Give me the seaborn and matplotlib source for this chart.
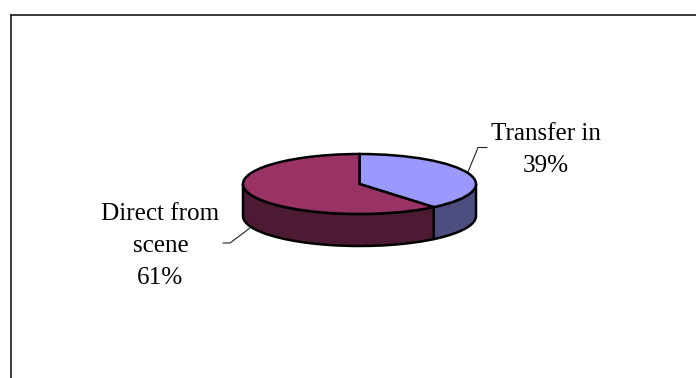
import numpy as np
import matplotlib
matplotlib.use("Agg")
import matplotlib.pyplot as plt
import seaborn as sns

labels = ["Transfer in", "Direct from\nscene"]
shares = [39, 61]
top_colors = ["#9999FF", "#993366"]
side_colors = ["#4D4D80", "#4D1A33"]

sns.set_theme(style="white")
plt.rcParams["font.family"] = ["Liberation Serif", "DejaVu Sans"]

W, H = 696, 378
LEFT, TOP = 10.5, 15.0
CX, CY = 359.5, 184.0
RX, RY = 116.5, 30.0
DEPTH = 32.0 / RY
lw = 2.5 * 72 / 100

fig = plt.figure(figsize=(W / 100, H / 100), dpi=100, facecolor="white")
ax = fig.add_axes([LEFT / W, 0, (W - LEFT) / W, (H - TOP) / H])

ax.pie(shares, colors=top_colors, startangle=90, counterclock=False,
       wedgeprops=dict(edgecolor="black", linewidth=lw, zorder=3))

# The pie call fixes the aspect and hides the frame; open both up again
# so the unit circle is squashed into a tilted disc.
ax.set_aspect("auto")
ax.set_frame_on(True)
ax.set_xlim((LEFT - CX) / RX, (W - CX) / RX)
ax.set_ylim((CY - H) / RY, (CY - TOP) / RY)
for name, spine in ax.spines.items():
    spine.set_visible(name in ("left", "top"))
    spine.set_color("#111111")
    spine.set_linewidth(1.6 * 72 / 100)

# Rim of the disc: only the front half (y < 0) of each slice is visible.
edges = 90 - 3.6 * np.cumsum([0] + shares)
for i, (a, b) in enumerate(zip(edges[:-1], edges[1:])):
    t = np.radians(np.linspace(a, b, 240))
    t = t[np.sin(t) <= 0]
    x, y = np.cos(t), np.sin(t)
    ax.fill(np.r_[x, x[::-1]], np.r_[y, y[::-1] - DEPTH],
            facecolor=side_colors[i], edgecolor="black", linewidth=lw,
            joinstyle="round", zorder=2)


def px(x, y):
    return (x - CX) / RX, (CY - y) / RY


text_style = dict(ha="center", va="baseline", multialignment="center",
                  fontsize=18.1, color="black", linespacing=1.6, zorder=5)
ax.text(*px(545.5, 172), f"{labels[0]}\n{shares[0]}%", **text_style)
ax.text(*px(160.5, 284), f"{labels[1]}\n{shares[1]}%", **text_style)

for pts in ([(468, 172), (478, 147.5), (487, 147.5)],
            [(250, 228), (230, 243), (223, 243)]):
    xs, ys = zip(*[px(*p) for p in pts])
    ax.plot(xs, ys, color="#222222", lw=0.8, zorder=1)

fig.savefig("out.png", dpi=100)
